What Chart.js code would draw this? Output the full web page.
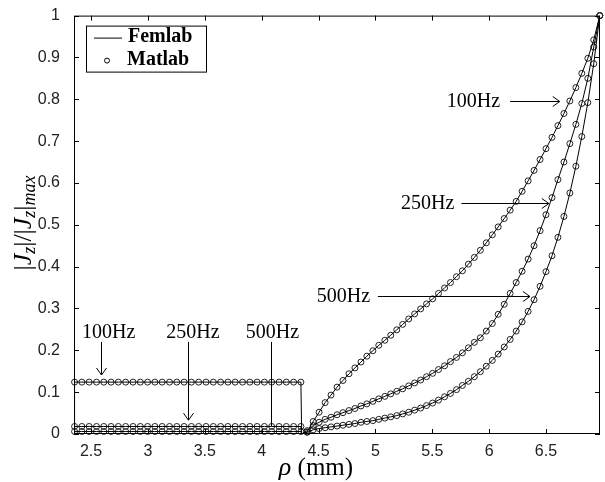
<!DOCTYPE html>
<html>
<head>
<meta charset="utf-8">
<script src="https://cdn.jsdelivr.net/npm/chart.js@4/dist/chart.umd.min.js"></script>
<style>
  html, body { margin: 0; padding: 0; background: #fff; }
  #wrap { width: 605px; height: 482px; }
</style>
</head>
<body>
<div id="wrap"><canvas id="chart" width="605" height="482"></canvas></div>
<script>
// rho (mm) grid of the inner region (flat part) and of the outer region (rising part)
const rhoInner = [2.355, 2.419, 2.483, 2.548, 2.612, 2.676, 2.740, 2.804, 2.869, 2.933,
  2.997, 3.061, 3.125, 3.190, 3.254, 3.318, 3.382, 3.446, 3.511, 3.575,
  3.639, 3.703, 3.767, 3.832, 3.896, 3.960, 4.024, 4.088, 4.153, 4.217,
  4.281, 4.345];
const rhoOuter = [4.400, 4.453, 4.505, 4.558, 4.610, 4.663, 4.715, 4.768, 4.820, 4.873,
  4.925, 4.978, 5.030, 5.083, 5.135, 5.188, 5.240, 5.293, 5.345, 5.398,
  5.450, 5.503, 5.555, 5.608, 5.660, 5.713, 5.765, 5.818, 5.870, 5.923,
  5.975, 6.028, 6.080, 6.133, 6.185, 6.238, 6.290, 6.343, 6.395, 6.448,
  6.500, 6.553, 6.605, 6.658, 6.710, 6.763, 6.815, 6.868, 6.920, 6.973];
// where the Femlab line drops to zero on both sides of the flat part
const rhoEdges = [2.35, 4.352];

const freqs = ["100Hz", "250Hz", "500Hz"];
const innerLevels = [0.124, 0.018, 0.006];
const outer100 = [0.005, 0.030, 0.052, 0.075, 0.093, 0.112, 0.128, 0.144, 0.158, 0.172,
  0.186, 0.199, 0.212, 0.224, 0.236, 0.249, 0.262, 0.275, 0.287, 0.299,
  0.311, 0.323, 0.336, 0.349, 0.362, 0.376, 0.390, 0.406, 0.422, 0.439,
  0.457, 0.476, 0.495, 0.515, 0.535, 0.556, 0.580, 0.605, 0.630, 0.656,
  0.682, 0.709, 0.737, 0.766, 0.796, 0.828, 0.862, 0.898, 0.942, 1.000];
const outer250 = [0.008, 0.020, 0.028, 0.035, 0.040, 0.046, 0.051, 0.056, 0.061, 0.067,
  0.072, 0.078, 0.084, 0.090, 0.096, 0.102, 0.108, 0.115, 0.122, 0.129,
  0.137, 0.145, 0.154, 0.163, 0.173, 0.183, 0.194, 0.206, 0.219, 0.230,
  0.246, 0.264, 0.286, 0.310, 0.336, 0.362, 0.389, 0.418, 0.450, 0.486,
  0.524, 0.565, 0.608, 0.650, 0.694, 0.740, 0.790, 0.850, 0.925, 1.000];
const outer500 = [0.004, 0.010, 0.013, 0.015, 0.017, 0.019, 0.021, 0.023, 0.025, 0.028,
  0.030, 0.032, 0.035, 0.038, 0.041, 0.044, 0.048, 0.052, 0.057, 0.062,
  0.068, 0.074, 0.081, 0.089, 0.097, 0.106, 0.116, 0.126, 0.137, 0.149,
  0.162, 0.176, 0.191, 0.208, 0.226, 0.246, 0.268, 0.293, 0.321, 0.353,
  0.388, 0.426, 0.470, 0.520, 0.576, 0.640, 0.711, 0.792, 0.885, 1.000];
const outerValues = [outer100, outer250, outer500];

const xTicks = [2.5, 3, 3.5, 4, 4.5, 5, 5.5, 6, 6.5];
const xTickLabels = ["2.5", "3", "3.5", "4", "4.5", "5", "5.5", "6", "6.5"];
const yTicks = [0, 0.1, 0.2, 0.3, 0.4, 0.5, 0.6, 0.7, 0.8, 0.9, 1];
const yTickLabels = ["0", "0.1", "0.2", "0.3", "0.4", "0.5", "0.6", "0.7", "0.8", "0.9", "1"];

// labels with arrows, in data units
const sideNotes = [ // text right of x, horizontal arrow from x0 to x1
  { text: "100Hz", tx: 6.097, y: 0.797, x0: 6.184, x1: 6.621 },
  { text: "250Hz", tx: 5.695, y: 0.551, x0: 5.756, x1: 6.525 },
  { text: "500Hz", tx: 4.953, y: 0.329, x0: 5.022, x1: 6.359 }
];
const dropNotes = [ // text left at tx, vertical arrow at x from y0 down to y1
  { text: "100Hz", tx: 2.42, ty: 0.243, x: 2.586, y0: 0.220, y1: 0.141, head: true },
  { text: "250Hz", tx: 3.162, ty: 0.243, x: 3.354, y0: 0.220, y1: 0.033, head: true },
  { text: "500Hz", tx: 3.861, ty: 0.243, x: 4.079, y0: 0.220, y1: 0.019, head: false }
];

const serif = "'Liberation Serif', 'Times New Roman', serif";
const sans = "'Liberation Sans', Arial, sans-serif";

const datasets = [];
freqs.forEach((f, k) => {
  const inner = rhoInner.map(r => ({ x: r, y: innerLevels[k] }));
  const outer = rhoOuter.map((r, i) => ({ x: r, y: outerValues[k][i] }));
  datasets.push({
    label: "Femlab " + f,
    data: [{ x: rhoEdges[0], y: 0 }, ...inner, { x: rhoEdges[1], y: 0 }, ...outer],
    borderColor: "#000", borderWidth: 1, pointRadius: 0, tension: 0, order: 1
  });
  datasets.push({
    label: "Matlab " + f,
    data: [...inner, ...outer],
    showLine: false, pointStyle: "circle", pointRadius: 3, pointBorderWidth: 1,
    pointBorderColor: "#222", pointBackgroundColor: "rgba(255,255,255,0)",
    clip: false, order: 2
  });
});

function line(ctx, x0, y0, x1, y1) {
  ctx.beginPath(); ctx.moveTo(x0, y0); ctx.lineTo(x1, y1); ctx.stroke();
}

const decor = {
  id: "decor",
  afterDraw(chart) {
    const { ctx, chartArea: a, scales: { x, y } } = chart;
    ctx.save();
    ctx.strokeStyle = "#000";
    ctx.lineWidth = 1;
    // box round the plot
    ctx.strokeRect(a.left + 0.5, a.top + 0.5, a.right - a.left - 1, a.bottom - a.top - 1);
    // inward ticks on all four sides
    xTicks.forEach(v => {
      const px = Math.round(x.getPixelForValue(v)) + 0.5;
      line(ctx, px, a.bottom, px, a.bottom - 5);
      line(ctx, px, a.top, px, a.top + 5);
    });
    yTicks.forEach(v => {
      const py = Math.round(y.getPixelForValue(v)) + 0.5;
      line(ctx, a.left, py, a.left + 5, py);
      line(ctx, a.right, py, a.right - 5, py);
    });

    // legend
    const lx = a.left + 12, ly = a.top + 10;
    ctx.fillStyle = "#fff";
    ctx.fillRect(lx, ly, 120, 46);
    ctx.strokeRect(lx + 0.5, ly + 0.5, 120, 46);
    line(ctx, lx + 8, ly + 12.5, lx + 36, ly + 12.5);
    ctx.beginPath(); ctx.arc(lx + 21, ly + 35, 2.5, 0, Math.PI * 2); ctx.stroke();
    ctx.fillStyle = "#000";
    ctx.font = "bold 20px " + serif;
    ctx.textBaseline = "middle";
    ctx.textAlign = "left";
    ctx.fillText("Femlab", lx + 42, ly + 11);
    ctx.fillText("Matlab", lx + 41, ly + 34);

    // frequency labels with arrows
    ctx.font = "20px " + serif;
    sideNotes.forEach(n => {
      const py = Math.round(y.getPixelForValue(n.y)) + 0.5;
      const x0 = x.getPixelForValue(n.x0), x1 = x.getPixelForValue(n.x1);
      ctx.textAlign = "right";
      ctx.fillText(n.text, x.getPixelForValue(n.tx), py);
      line(ctx, x0, py, x1, py);
      line(ctx, x1, py, x1 - 7, py - 5);
      line(ctx, x1, py, x1 - 7, py + 5);
    });
    dropNotes.forEach(n => {
      const px = Math.round(x.getPixelForValue(n.x)) + 0.5;
      const y0 = y.getPixelForValue(n.y0), y1 = y.getPixelForValue(n.y1);
      ctx.textAlign = "left";
      ctx.fillText(n.text, x.getPixelForValue(n.tx), y.getPixelForValue(n.ty));
      line(ctx, px, y0, px, y1);
      if (n.head) {
        line(ctx, px, y1, px - 5, y1 - 7);
        line(ctx, px, y1, px + 5, y1 - 7);
      }
    });

    // x title: rho (mm)
    ctx.textAlign = "left";
    ctx.textBaseline = "alphabetic";
    ctx.font = "italic 26px " + serif;
    const rhoW = ctx.measureText("\u03C1").width;
    ctx.font = "25px " + serif;
    const mmW = ctx.measureText(" (mm)").width;
    let tx = 316 - (rhoW + mmW) / 2;
    ctx.font = "italic 26px " + serif;
    ctx.fillText("\u03C1", tx, 475);
    ctx.font = "25px " + serif;
    ctx.fillText(" (mm)", tx + rhoW, 475);

    // y title: |Jz|/|Jz|max, rotated
    const parts = [
      { t: "|", f: "26px " + serif, dy: 0 },
      { t: "J", f: "italic 26px " + serif, dy: 0 },
      { t: "z", f: "italic 18px " + serif, dy: 4 },
      { t: "|/|", f: "26px " + serif, dy: 0 },
      { t: "J", f: "italic 26px " + serif, dy: 0 },
      { t: "z", f: "italic 18px " + serif, dy: 4 },
      { t: "|", f: "26px " + serif, dy: 0 },
      { t: "max", f: "italic 18px " + serif, dy: 4 }
    ];
    let total = 0;
    parts.forEach(p => { ctx.font = p.f; p.w = ctx.measureText(p.t).width; total += p.w; });
    ctx.translate(31, 223);
    ctx.rotate(-Math.PI / 2);
    let cx = -total / 2;
    parts.forEach(p => {
      ctx.font = p.f;
      ctx.fillText(p.t, cx, p.dy);
      cx += p.w;
    });
    ctx.restore();
  }
};

new Chart(document.getElementById("chart"), {
  type: "line",
  data: { datasets },
  options: {
    responsive: false,
    animation: false,
    layout: { padding: { left: 0, right: 2, top: 15, bottom: 0 } },
    plugins: { legend: { display: false }, tooltip: { enabled: false } },
    scales: {
      x: {
        type: "linear", min: 2.35, max: 6.975,
        grid: { display: false }, border: { display: false },
        afterBuildTicks: s => { s.ticks = xTicks.map(v => ({ value: v })); },
        afterFit: s => { s.height = 48; },
        ticks: {
          color: "#222", font: { family: sans, size: 16 }, padding: 0,
          maxRotation: 0, autoSkip: false,
          callback: (v, i) => xTickLabels[i]
        }
      },
      y: {
        type: "linear", min: 0, max: 1,
        grid: { display: false }, border: { display: false },
        afterBuildTicks: s => { s.ticks = yTicks.map(v => ({ value: v })); },
        afterFit: s => { s.width = 74; },
        ticks: {
          color: "#222", font: { family: sans, size: 16 }, padding: 6,
          autoSkip: false,
          callback: (v, i) => yTickLabels[i]
        }
      }
    }
  },
  plugins: [decor]
});
</script>
</body>
</html>
